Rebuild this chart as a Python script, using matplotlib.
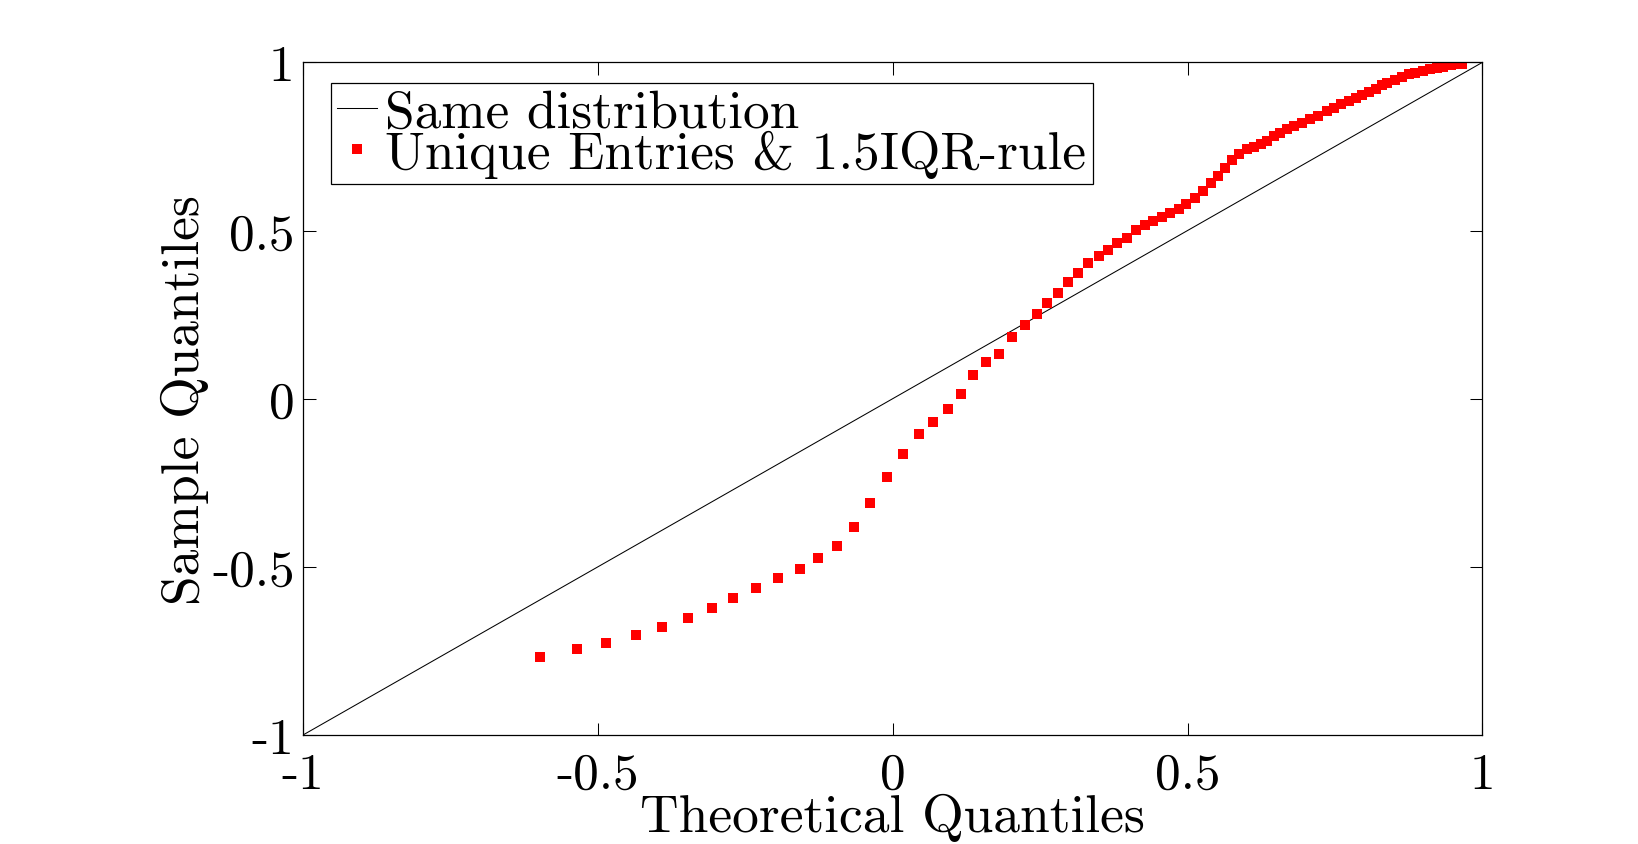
import matplotlib
matplotlib.use("Agg")
import matplotlib.pyplot as plt

plt.rcParams['font.family'] = ['cmr10', 'DejaVu Serif']
plt.rcParams['axes.unicode_minus'] = False
plt.rcParams['axes.formatter.use_mathtext'] = True

# quantile pairs
theo_q = [-0.598, -0.536, -0.486, -0.436, -0.391, -0.348, -0.307, -0.270, -0.231, -0.194,
          -0.158, -0.126, -0.095, -0.065, -0.038, -0.009, 0.018, 0.044, 0.069, 0.093,
          0.115, 0.137, 0.159, 0.181, 0.202, 0.224, 0.244, 0.261, 0.280, 0.297,
          0.314, 0.332, 0.350, 0.365, 0.380, 0.397, 0.413, 0.428, 0.441, 0.457,
          0.471, 0.485, 0.498, 0.512, 0.526, 0.539, 0.551, 0.563, 0.576, 0.588,
          0.600, 0.612, 0.624, 0.634, 0.646, 0.656, 0.668, 0.680, 0.694, 0.708,
          0.721, 0.737, 0.748, 0.760, 0.773, 0.785, 0.796, 0.807, 0.819, 0.829,
          0.839, 0.852, 0.864, 0.875, 0.886, 0.900, 0.912, 0.923, 0.934, 0.946,
          0.957, 0.966]
sample_q = [-0.769, -0.745, -0.727, -0.704, -0.680, -0.653, -0.623, -0.594, -0.564, -0.534,
            -0.505, -0.475, -0.439, -0.383, -0.311, -0.234, -0.163, -0.106, -0.068, -0.032,
            0.015, 0.069, 0.108, 0.134, 0.182, 0.218, 0.253, 0.286, 0.315, 0.348,
            0.375, 0.402, 0.423, 0.443, 0.464, 0.479, 0.503, 0.515, 0.527, 0.541,
            0.553, 0.565, 0.580, 0.598, 0.619, 0.642, 0.663, 0.687, 0.711, 0.729,
            0.741, 0.749, 0.758, 0.767, 0.782, 0.791, 0.803, 0.812, 0.821, 0.831,
            0.840, 0.855, 0.865, 0.875, 0.885, 0.893, 0.902, 0.912, 0.922, 0.932,
            0.940, 0.949, 0.958, 0.964, 0.969, 0.974, 0.979, 0.983, 0.987, 0.991,
            0.994, 0.996]
ref_line = [-1, 1]
ticks = [-1, -0.5, 0, 0.5, 1]
tick_labels = ['-1', '-0.5', '0', '0.5', '1']

fig = plt.figure(figsize=(16.38, 8.45), dpi=100)
ax = fig.add_axes([0.185, 0.129, 0.72, 0.796])

ax.plot(ref_line, ref_line, color='black', linewidth=0.75, label='Same distribution')
ax.plot(theo_q, sample_q, linestyle='none', marker='s', markersize=6.5,
        color='red', markeredgewidth=0, label='Unique Entries & 1.5IQR-rule')

ax.set_xlim(-1, 1)
ax.set_ylim(-1, 1)
ax.set_xticks(ticks)
ax.set_xticklabels(tick_labels)
ax.set_yticks(ticks)
ax.set_yticklabels(tick_labels)
ax.tick_params(direction='in', length=9, width=0.75, top=True, right=True,
               labelsize=37)
ax.tick_params(axis='x', pad=12)
ax.tick_params(axis='y', pad=6)
for s in ax.spines.values():
    s.set_linewidth(0.9)

ax.set_xlabel('Theoretical Quantiles', fontsize=38.5, labelpad=-3)
ax.set_ylabel('Sample Quantiles', fontsize=38.5, labelpad=2)

leg = ax.legend(loc='upper left', bbox_to_anchor=(0.0237, 0.970), fontsize=38.3,
                frameon=True, fancybox=False, edgecolor='black', framealpha=1,
                handlelength=0.75, handletextpad=0.15, labelspacing=-0.12,
                borderpad=0.12, borderaxespad=0, markerscale=1.0)
leg.get_frame().set_linewidth(0.9)

fig.savefig('out.png', dpi=100, facecolor='white')
